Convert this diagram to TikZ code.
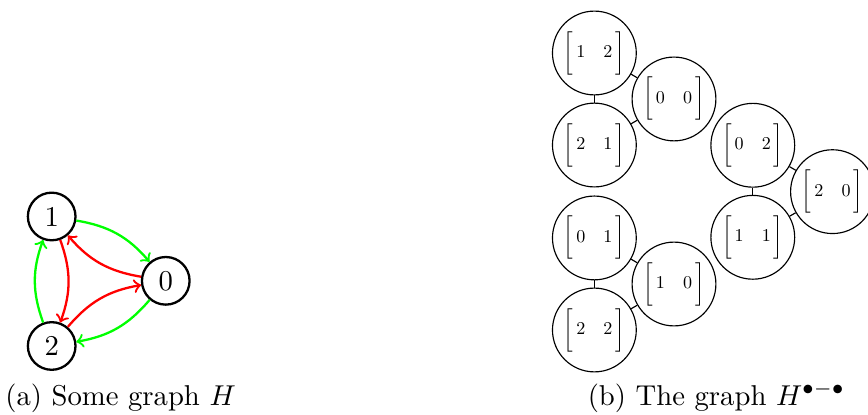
\documentclass[tikz,border=0pt]{standalone}
\usepackage{tikz}
\usetikzlibrary{positioning}
\usepackage{amsmath}

\newcommand{\pairm}[2]{\scalebox{0.63}{$\bigg[\,#1\quad #2\,\bigg]$}}

\begin{document}
\begin{tikzpicture}[
        vert/.style={draw, circle, thick, minimum size=16.6pt, inner sep=0pt},
        mvert/.style={draw, circle, minimum size=29.2pt, inner sep=0pt},
        arr/.style={->, thick, bend left=20}
    ]
        \useasboundingbox (0,0) rectangle (10.63,5.082);

        % some graph H
        \node[vert] (n1) at (0.633, 2.431) {1};
        \node[vert] (n0) at (2.030, 1.643) {0};
        \node[vert] (n2) at (0.633, 0.845) {2};

        \draw[arr, green] (n1) to (n0);
        \draw[arr, red]   (n0) to (n1);
        \draw[arr, red]   (n1) to (n2);
        \draw[arr, green] (n2) to (n1);
        \draw[arr, red]   (n2) to (n0);
        \draw[arr, green] (n0) to (n2);

        \node[anchor=base] (capa) at (1.476, 0.122) {(a) Some graph $H$};

        % the graph H^{bullet-bullet}
        \node[mvert] (m12) at (7.279, 4.433) {\pairm{1}{2}};
        \node[mvert] (m21) at (7.279, 3.306) {\pairm{2}{1}};
        \node[mvert] (m00) at (8.254, 3.870) {\pairm{0}{0}};

        \node[mvert] (m02) at (9.219, 3.303) {\pairm{0}{2}};
        \node[mvert] (m11) at (9.219, 2.176) {\pairm{1}{1}};
        \node[mvert] (m20) at (10.195, 2.735) {\pairm{2}{0}};

        \node[mvert] (m01) at (7.279, 2.168) {\pairm{0}{1}};
        \node[mvert] (m22) at (7.279, 1.041) {\pairm{2}{2}};
        \node[mvert] (m10) at (8.254, 1.604) {\pairm{1}{0}};

        \draw (m12) -- (m21);
        \draw (m12) -- (m00);
        \draw (m21) -- (m00);
        \draw (m02) -- (m11);
        \draw (m02) -- (m20);
        \draw (m11) -- (m20);
        \draw (m01) -- (m22);
        \draw (m01) -- (m10);
        \draw (m22) -- (m10);

        \node[anchor=base] (capb) at (8.774, 0.122) {(b) The graph $H^{\bullet-\bullet}$};
    \end{tikzpicture}
\end{document}
